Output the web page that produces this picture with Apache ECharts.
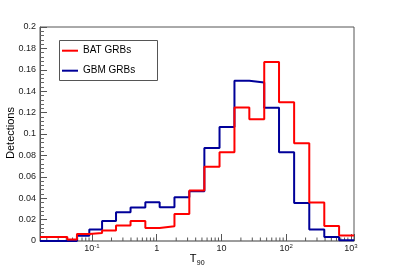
<!DOCTYPE html>
<html><head><meta charset="utf-8">
<script src="https://cdn.jsdelivr.net/npm/echarts@6/dist/echarts.min.js"></script>
<style>html,body{margin:0;padding:0;background:#fff}#c{width:394px;height:268px}</style>
</head><body><div id="c"></div>
<script>
// T90 bin edges (s), log-spaced histogram bins
const binEdges = [0.0157, 0.0415, 0.0585, 0.0908, 0.143, 0.235, 0.394, 0.667, 1.11, 1.88, 3.19, 5.45, 9.35, 15.9, 27.0, 45.9, 77.7, 133, 228, 389, 659, 1120];
// Fraction of detections per bin
const batGRBs = [0.0037, 0.0013, 0.0066, 0.0075, 0.0097, 0.0144, 0.0187, 0.0122, 0.0138, 0.0253, 0.0472, 0.0695, 0.0830, 0.1247, 0.1137, 0.1672, 0.1296, 0.0914, 0.0359, 0.0140, 0.0051];
const gbmGRBs = [0, 0, 0.0050, 0.0107, 0.0187, 0.0269, 0.0312, 0.0362, 0.0315, 0.0409, 0.0465, 0.0870, 0.1066, 0.1497, 0.1481, 0.1245, 0.0830, 0.0355, 0.0107, 0.0037, 0.0008];
const seriesNames = ['BAT GRBs', 'GBM GRBs'];
const xTickValues = [0.1, 1, 10, 100, 1000];
const xTickLabels = ['{b|10}{sup|-1}', '{b|1}', '{b|10}', '{b|10}{sup|2}', '{b|10}{sup|3}'];
const yTitle = 'Detections';

const FONT = '"Liberation Sans", Arial, Helvetica, sans-serif';
const xMin = binEdges[0], xMax = binEdges[binEdges.length - 1];

function stepData(vals) {
  const d = vals.map((v, i) => [binEdges[i], v]);
  d.push([binEdges[binEdges.length - 1], vals[vals.length - 1]]);
  return d;
}
// minor log ticks (2..9 x 10^n) inside the range
const minorX = [];
for (let e = -2; e <= 3; e++) for (let k = 2; k <= 9; k++) {
  const v = k * Math.pow(10, e);
  if (v > xMin && v < xMax) minorX.push([v, 0]);
}

const chart = echarts.init(document.getElementById('c'), null, {renderer: 'canvas'});
chart.setOption({
  animation: false,
  textStyle: {fontFamily: FONT},
  grid: {left: 40, right: 40, top: 27, bottom: 27, show: true, borderColor: '#555', borderWidth: 1, containLabel: false},
  legend: {
    data: seriesNames, orient: 'vertical', left: 62, top: 44.7, padding: 0, itemGap: 8,
    itemWidth: 16, itemHeight: 2, icon: 'rect',
    textStyle: {fontFamily: FONT, fontSize: 10, color: '#000', lineHeight: 12}
  },
  xAxis: {
    type: 'log', logBase: 10, min: xMin, max: xMax,
    axisLine: {show: true, lineStyle: {color: '#999', width: 1.5}},
    axisTick: {show: true, inside: true, length: 7, lineStyle: {color: '#555'}},
    splitLine: {show: false},
    axisLabel: {
      margin: 2, color: '#222',
      formatter: function (v) {
        for (let i = 0; i < xTickValues.length; i++) {
          if (Math.abs(Math.log10(v) - Math.log10(xTickValues[i])) < 1e-6) return xTickLabels[i];
        }
        return '';
      },
      rich: {
        b: {fontSize: 9, lineHeight: 12, fontFamily: FONT, color: '#222'},
        sup: {fontSize: 6, lineHeight: 6, verticalAlign: 'top', fontFamily: FONT, color: '#222'}
      }
    }
  },
  yAxis: {
    type: 'value', min: 0, max: 0.2, interval: 0.02,
    axisLine: {show: true, lineStyle: {color: '#555', width: 1}},
    axisTick: {show: true, inside: true, length: 7, lineStyle: {color: '#555'}},
    minorTick: {show: true, splitNumber: 5, length: 4, lineStyle: {color: '#666'}},
    splitLine: {show: false},
    axisLabel: {margin: 4, fontSize: 9, color: '#222', fontFamily: FONT}
  },
  graphic: [
    {type: 'rect', shape: {x: 59.5, y: 40.5, width: 98, height: 40}, style: {fill: '#fff', stroke: '#555', lineWidth: 1}, z: 3},
    {type: 'text', x: 11, y: 133, rotation: Math.PI / 2, style: {text: yTitle, font: '11px ' + FONT, fill: '#000', align: 'center', verticalAlign: 'middle'}},
    {type: 'text', x: 196.5, y: 258.7, style: {text: 'T', font: '11px ' + FONT, fill: '#000', align: 'right', verticalAlign: 'middle'}},
    {type: 'text', x: 196.8, y: 262.6, style: {text: '90', font: '7px ' + FONT, fill: '#000', align: 'left', verticalAlign: 'middle'}}
  ],
  series: [
    {
      type: 'custom', silent: true, data: minorX, z: 1,
      renderItem: function (params, api) {
        const p = api.coord([api.value(0), 0]);
        return {type: 'line', shape: {x1: p[0], y1: p[1], x2: p[0], y2: p[1] - 3.5}, style: {stroke: '#555', lineWidth: 1}};
      }
    },
    {name: seriesNames[1], type: 'line', step: 'end', data: stepData(gbmGRBs), symbol: 'none', color: '#000099', lineStyle: {width: 2, color: '#000099'}, z: 2},
    {name: seriesNames[0], type: 'line', step: 'end', data: stepData(batGRBs), symbol: 'none', color: '#ff0000', lineStyle: {width: 2, color: '#ff0000'}, z: 3}
  ]
});
</script></body></html>
